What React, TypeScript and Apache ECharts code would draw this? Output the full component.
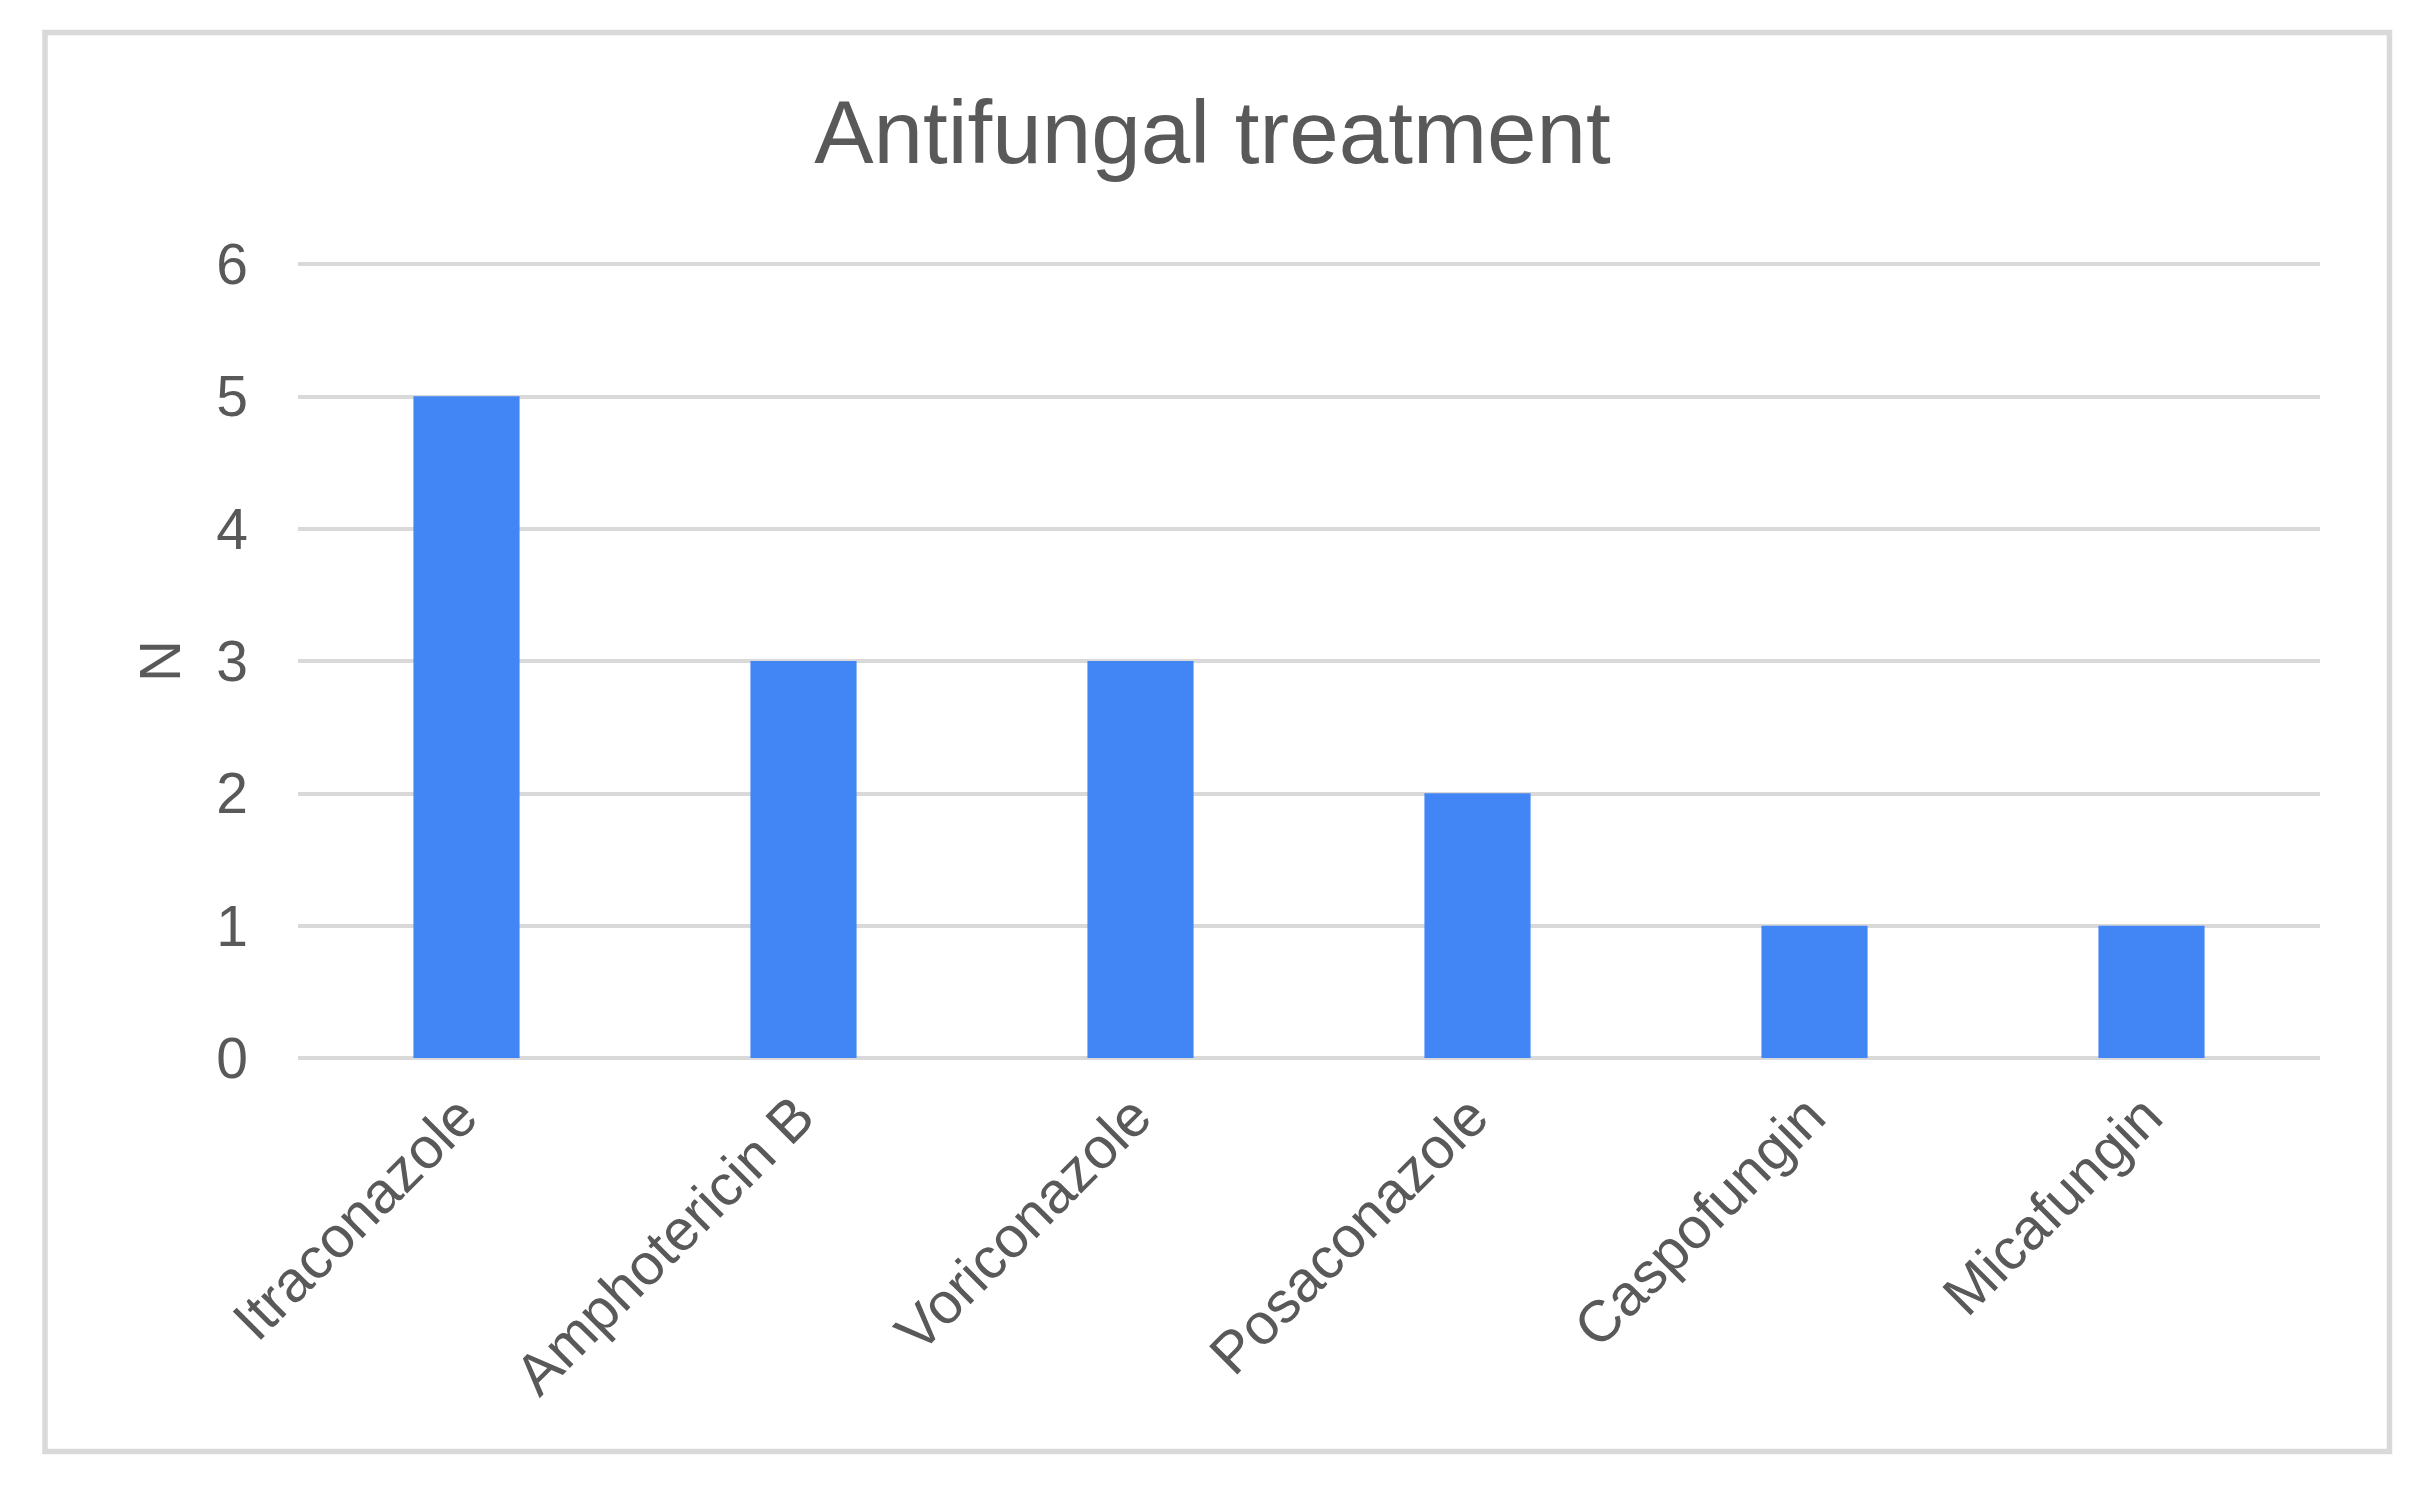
import React, { useEffect, useRef } from "react";
import * as echarts from "echarts";

const titleText = "Antifungal treatment";
const categories = ["Itraconazole", "Amphotericin B", "Voriconazole", "Posaconazole", "Caspofungin", "Micafungin"];
const values = [5, 3, 3, 2, 1, 1];
const yAxisName = "N";
const yMin = 0;
const yMax = 6;
const yInterval = 1;

const FONT = "'Liberation Sans', Arial, sans-serif";
const TEXT = "#595959";
const GRIDC = "#d9d9d9";

export default function App() {
  const ref = useRef<HTMLDivElement>(null);
  useEffect(() => {
    document.body.style.margin = "0";
    const chart = echarts.init(ref.current!, null, { renderer: "svg" });
    chart.setOption({
      animation: false,
      backgroundColor: "#ffffff",
      title: {
        text: titleText,
        left: "center",
        top: 82,
        textStyle: { fontFamily: FONT, fontSize: 89, fontWeight: "normal", color: TEXT },
      },
      graphic: [
        {
          type: "rect",
          shape: { x: 45, y: 32.5, width: 2344.5, height: 1419 },
          style: { fill: "none", stroke: GRIDC, lineWidth: 5.5 },
          z: -1,
        },
      ],
      grid: { left: 298, right: 105, top: 264, bottom: 437, containLabel: false },
      xAxis: {
        type: "category",
        data: categories,
        axisLine: { show: false },
        axisTick: { show: false },
        axisLabel: {
          rotate: 45,
          margin: 48,
          interval: 0,
          fontFamily: FONT,
          fontSize: 58,
          color: TEXT,
        },
      },
      yAxis: {
        type: "value",
        min: yMin,
        max: yMax,
        interval: yInterval,
        name: yAxisName,
        nameLocation: "middle",
        nameGap: 110,
        nameRotate: 90,
        nameTextStyle: { fontFamily: FONT, fontSize: 58, color: TEXT },
        axisLine: { show: false },
        axisTick: { show: false },
        axisLabel: { margin: 50, fontFamily: FONT, fontSize: 57, color: TEXT },
        splitLine: { lineStyle: { color: GRIDC, width: 4 } },
      },
      series: [
        {
          type: "bar",
          data: values,
          barCategoryGap: "68.5%",
          itemStyle: { color: "#4285f4" },
        },
      ],
    });
    return () => chart.dispose();
  }, []);
  return <div ref={ref} style={{ position: "absolute", left: 0, top: 0, width: 2425, height: 1495 }} />;
}
